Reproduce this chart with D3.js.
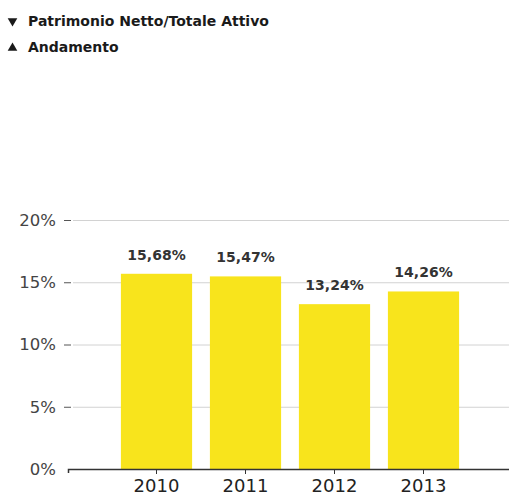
<!DOCTYPE html>
<html>
<head>
<meta charset="utf-8">
<script src="https://cdn.jsdelivr.net/npm/d3@7"></script>
<style>
  body { margin: 0; background: #fff; }
  svg { display: block; }
</style>
</head>
<body>
<script>
// data
const years = ["2010", "2011", "2012", "2013"];
const values = [15.68, 15.47, 13.24, 14.26];
const yTicks = [0, 5, 10, 15, 20];
const legendItems = ["Patrimonio Netto/Totale Attivo", "Andamento"];

var width = 509, height = 497;

var svg = d3.select("body").append("svg")
    .attr("width", width)
    .attr("height", height);

var x = d3.scaleBand()
    .domain(years)
    .range([112, 468])
    .paddingInner(0.2)
    .paddingOuter(0.1);

var y = d3.scaleLinear()
    .domain([0, 20])
    .range([469, 220]);

var fmt = d => d3.format(".2f")(d).replace(".", ",") + "%";

// legend
var legend = svg.append("g")
    .selectAll("g")
    .data(legendItems)
    .enter().append("g")
    .attr("transform", (d, i) => "translate(0," + (26 + i * 26) + ")");

legend.append("path")
    .attr("d", d3.symbol(d3.symbolTriangle, 40))
    .attr("transform", (d, i) => "translate(12.5," + (i === 0 ? -5 : -4) + ") rotate(" + (i === 0 ? 180 : 0) + ")")
    .attr("fill", "#1a1a1a");

legend.append("text")
    .attr("x", 28)
    .attr("font-family", "'DejaVu Sans', sans-serif")
    .attr("font-weight", "bold")
    .attr("font-size", "14px")
    .attr("fill", "#1a1a1a")
    .text(d => d);

// gridlines
svg.append("g")
    .selectAll("line")
    .data(yTicks.slice(1))
    .enter().append("line")
    .attr("x1", 73)
    .attr("x2", width)
    .attr("y1", d => y(d) + 0.5)
    .attr("y2", d => y(d) + 0.5)
    .attr("stroke", "#d2d2d2")
    .attr("stroke-width", 1);

// y axis
var yAxis = svg.append("g")
    .attr("transform", "translate(71,0)")
    .call(d3.axisLeft(y).tickValues(yTicks).tickSize(7).tickPadding(8).tickFormat(d => d + "%"));
yAxis.select(".domain").remove();
yAxis.selectAll(".tick line").attr("stroke", "#555");
yAxis.selectAll(".tick text")
    .attr("font-family", "'DejaVu Sans', sans-serif")
    .attr("font-size", "16.5px")
    .attr("fill", "#444");
yAxis.selectAll(".tick").filter(d => d === 0).select("line").remove();

// bars
svg.append("g")
    .selectAll("rect")
    .data(values)
    .enter().append("rect")
    .attr("x", (d, i) => x(years[i]))
    .attr("y", d => y(d))
    .attr("width", x.bandwidth())
    .attr("height", d => y(0) - y(d))
    .attr("fill", "#f8e41c");

// value labels over bars
svg.append("g")
    .selectAll("text")
    .data(values)
    .enter().append("text")
    .attr("x", (d, i) => x(years[i]) + x.bandwidth() / 2)
    .attr("y", d => y(d) - 14)
    .attr("text-anchor", "middle")
    .attr("font-family", "'DejaVu Sans', sans-serif")
    .attr("font-weight", "bold")
    .attr("font-size", "14px")
    .attr("fill", "#333")
    .text(fmt);

// x axis
var xAxis = svg.append("g")
    .attr("transform", "translate(0," + y(0) + ")")
    .call(d3.axisBottom(x).tickSize(5).tickPadding(6));
xAxis.select(".domain").remove();
xAxis.selectAll(".tick line").attr("stroke", "#333");
xAxis.selectAll(".tick text")
    .attr("y", null)
    .attr("dy", null)
    .attr("y", 23)
    .attr("font-family", "'DejaVu Sans', sans-serif")
    .attr("font-size", "18px")
    .attr("fill", "#222");

svg.append("path")
    .attr("d", "M68.5," + (y(0) + 4) + "V" + (y(0) + 0.5) + "H" + width)
    .attr("fill", "none")
    .attr("stroke", "#333")
    .attr("stroke-width", 1.5);
</script>
</body>
</html>
